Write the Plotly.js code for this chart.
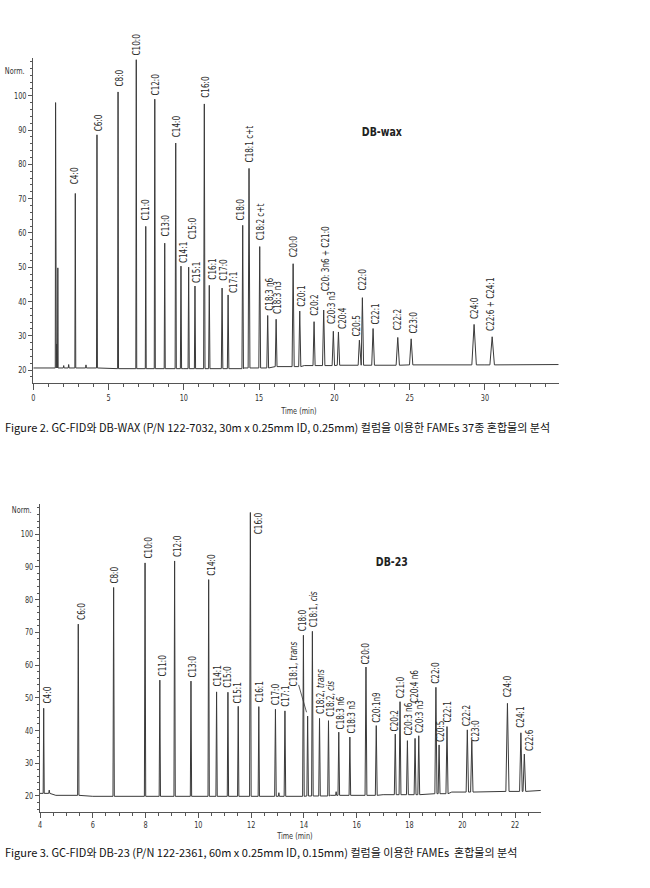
<!DOCTYPE html>
<html>
<head>
<meta charset="utf-8">
<script src="https://cdn.plot.ly/plotly-3.0.1.min.js"></script>
<style>
html,body{margin:0;padding:0;background:#ffffff;}
#chart{width:650px;height:888px;}
</style>
</head>
<body>
<div id="chart"></div>
<script>
// ---------------- Figure 2 : DB-wax ----------------
const waxPeakLabels = ["C4:0","C6:0","C8:0","C10:0","C11:0","C12:0","C13:0","C14:0","C14:1","C15:0","C15:1","C16:0","C16:1","C17:0","C17:1","C18:0","C18:1 c+t","C18:2 c+t","C18:3 n6","C18:3 n3","C20:0","C20:1","C20:2","C20: 3n6 + C21:0","C20:3 n3","C20:4","C20:5","C22:0","C22:1","C22:2","C23:0","C24:0","C22:6 + C24:1"];
const waxPeakTimes  = [2.79,4.23,5.63,6.84,7.47,8.07,8.73,9.46,9.81,10.32,10.74,11.36,11.69,12.54,12.94,13.91,14.33,15.04,15.57,16.13,17.26,17.70,18.65,19.29,19.93,20.27,21.66,21.86,22.57,24.21,25.10,29.28,30.48];
const waxPeakHeights= [71.5,88.6,101.1,110.5,61.9,99.0,57.0,86.2,50.3,50.0,44.5,97.6,44.7,43.9,41.9,62.2,78.8,56.0,35.9,34.8,51.0,37.2,34.1,37.5,31.3,31.1,28.7,41.1,32.1,29.5,29.1,33.3,29.7];
const waxPeakHalfWidths = [0.03,0.03,0.03,0.03,0.03,0.035,0.035,0.04,0.04,0.04,0.04,0.045,0.045,0.05,0.05,0.05,0.06,0.06,0.06,0.06,0.07,0.07,0.07,0.08,0.08,0.08,0.08,0.08,0.09,0.11,0.11,0.15,0.15];
// unlabelled solvent / trace peaks
const waxMinorTimes   = [1.48,1.55,1.63,2.02,2.35,3.50];
const waxMinorHeights = [98.0,27.6,49.8,21.3,21.6,21.5];
const waxMinorHalfWidths = [0.02,0.02,0.02,0.03,0.03,0.03];
// baseline samples
const waxBaseTimes  = [0,1.3,5,10,14,16,18,20,25,30,34.9];
const waxBaseLevels = [20.6,20.6,20.4,20.4,20.6,21.0,21.3,21.4,21.5,21.5,21.6];
const waxXTicks = [0,5,10,15,20,25,30];
const waxYTicks = [20,30,40,50,60,70,80,90,100];

// ---------------- Figure 3 : DB-23 ----------------
const db23PeakLabels = ["C4:0","C6:0","C8:0","C10:0","C11:0","C12:0","C13:0","C14:0","C14:1","C15:0","C15:1","C16:0","C16:1","C17:0","C17:1","C18:0","C18:1, <i>trans</i>","C18:1, <i>cis</i>","C18:2, <i>trans</i>","C18:2, <i>cis</i>","C18:3 n6","C18:3 n3","C20:0","C20:1n9","C20:2","C21:0","C20:3 n6","C20:4 n6","C20:3 n3","C22:0","C20:5","C22:1","C22:2","C23:0","C24:0","C24:1","C22:6"];
const db23PeakTimes  = [4.14,5.45,6.79,7.98,8.54,9.10,9.72,10.39,10.69,11.12,11.51,11.97,12.29,12.92,13.28,13.98,14.14,14.32,14.59,14.93,15.32,15.74,16.35,16.74,17.46,17.64,17.92,18.21,18.35,19.00,19.12,19.42,20.19,20.36,21.71,22.22,22.35];
const db23PeakHeights= [46.8,72.5,83.7,91.2,55.4,91.8,55.1,86.1,51.8,51.7,47.4,106.6,47.3,46.5,46.0,69.1,44.4,70.3,43.7,43.0,39.5,38.0,59.4,41.5,38.9,48.8,36.9,37.6,38.4,53.2,35.6,41.2,40.2,37.0,48.3,39.3,32.8];
const db23PeakHalfWidths = [0.02,0.025,0.025,0.025,0.025,0.025,0.025,0.025,0.025,0.025,0.025,0.03,0.025,0.03,0.03,0.03,0.03,0.03,0.03,0.03,0.03,0.03,0.035,0.035,0.035,0.035,0.035,0.035,0.035,0.04,0.035,0.04,0.045,0.045,0.06,0.05,0.05];
const db23MinorTimes   = [4.35,13.05,15.22];
const db23MinorHeights = [21.8,21.0,21.3];
const db23MinorHalfWidths = [0.02,0.02,0.02];
const db23BaseTimes  = [4.0,4.6,6,10,14,15,17,18.8,19.6,21,23];
const db23BaseLevels = [20.8,20.2,19.9,19.9,20.0,20.2,20.4,20.7,21.2,21.4,21.7];
const db23XTicks = [4,6,8,10,12,14,16,18,20,22];
const db23YTicks = [20,30,40,50,60,70,80,90,100];

// ---------------- captions / titles ----------------
const cap2 = "Figure 2. GC-FID와 DB-WAX (P/N 122-7032, 30m x 0.25mm ID, 0.25mm) 컬럼을 이용한 FAMEs 37종 혼합물의 분석";
const cap3 = "Figure 3. GC-FID와 DB-23 (P/N 122-2361, 60m x 0.25mm ID, 0.15mm) 컬럼을 이용한 FAMEs&nbsp; 혼합물의 분석";
const colName2 = "DB-wax";
const colName3 = "DB-23";
const yUnit = "Norm.";
const xTitle = "Time (min)";

// ---------------- font selection (narrow face to match the reference) ----------------
function measure(family, size, s){
  const sp = document.createElement('span');
  sp.style.cssText = 'position:absolute;left:0;top:0;visibility:hidden;white-space:nowrap;font-family:'+family+';font-size:'+size+'px;';
  sp.textContent = s; document.body.appendChild(sp);
  const w = sp.getBoundingClientRect().width; sp.remove(); return w;
}
function hasFont(f){
  const s = "C20: 3n6 + C21:0 mmmWWiil";
  return measure('"'+f+'", monospace',20,s) !== measure('monospace',20,s);
}
const sample = "C20: 3n6 + C21:0";
const targetW = 65; // px width of that label in the reference (10px narrow face)
let FN = '"Liberation Sans", Arial, sans-serif';
for(const c of ["Liberation Sans Narrow","DejaVu Sans Condensed"]){
  if(hasFont(c)){ FN = '"'+c+'", sans-serif'; break; }
}
// horizontal compression factor so that the chosen face matches narrow-label widths
const squeeze = Math.min(1, targetW / measure(FN,10,sample));
const CAPF = '"Noto Sans CJK KR", "Noto Sans", sans-serif';
const capSize = +(12*545/measure(CAPF,12,cap2)).toFixed(2);

// ---------------- build chromatogram line from peak table ----------------
function buildLine(pT, pH, pW, mT, mH, mW, bT, bV) {
  const peaks = [];
  pT.forEach((t,i)=>peaks.push({t:t,h:pH[i],w:pW[i]}));
  mT.forEach((t,i)=>peaks.push({t:t,h:mH[i],w:mW[i]}));
  function level(t){ let k=0; for(let i=0;i<bT.length;i++){ if(bT[i]<=t) k=i; } return bV[k]; }
  const pts = [];
  bT.forEach((t,i)=>{
    const inside = peaks.some(p=>t>=p.t-p.w && t<=p.t+p.w);
    if(!inside) pts.push([t,bV[i]]);
  });
  peaks.forEach(p=>{
    const lv = level(p.t);
    pts.push([p.t-p.w, lv]); pts.push([p.t, p.h]); pts.push([p.t+p.w, lv]);
  });
  pts.sort((a,b)=>a[0]-b[0]);
  return {x:pts.map(p=>p[0]), y:pts.map(p=>p[1])};
}

const lineCol = "#3a3a3a";
const labelCol = "#2b2b2b";

const wax = buildLine(waxPeakTimes,waxPeakHeights,waxPeakHalfWidths,waxMinorTimes,waxMinorHeights,waxMinorHalfWidths,waxBaseTimes,waxBaseLevels);
const d23 = buildLine(db23PeakTimes,db23PeakHeights,db23PeakHalfWidths,db23MinorTimes,db23MinorHeights,db23MinorHalfWidths,db23BaseTimes,db23BaseLevels);

const traces = [
  {type:'scatter',mode:'lines',x:wax.x,y:wax.y,xaxis:'x',yaxis:'y',line:{color:lineCol,width:1},hoverinfo:'skip',showlegend:false},
  {type:'scatter',mode:'lines',x:d23.x,y:d23.y,xaxis:'x2',yaxis:'y2',line:{color:lineCol,width:1},hoverinfo:'skip',showlegend:false}
];

// label placement tweaks (pixels): [xshift, gap above apex]
const waxNudge = {"C4:0":[0,8],"C6:0":[1,3],"C8:0":[1,4],"C10:0":[0,3],"C11:0":[0,5],"C12:0":[1,3],"C13:0":[1,6],"C14:0":[1,5],
 "C14:1":[2,2],"C15:0":[4,27],"C15:1":[1,2],"C16:0":[1,5],"C16:1":[3,5],"C17:0":[2,6],"C17:1":[6,1],"C18:0":[-2,4],
 "C18:1 c+t":[0,5],"C18:2 c+t":[1,5],"C18:3 n6":[1,4],"C18:3 n3":[2,4],"C20:0":[0,5],"C20:1":[1,3],"C20:2":[1,5],
 "C20: 3n6 + C21:0":[2,18],"C20:3 n3":[-2,6],"C20:4":[4,2],"C20:5":[-3,3],"C22:0":[0,6],"C22:1":[2,3],"C22:2":[0,6],"C23:0":[2,4],"C24:0":[1,4],"C22:6 + C24:1":[-1,5]};
const d23Nudge = {"C4:0":[4,4],"C6:0":[3,3],"C8:0":[1,3],"C10:0":[3,3],"C11:0":[3,3],"C12:0":[3,3],"C13:0":[2,3],"C14:0":[2,3],
 "C14:1":[1,4],"C15:0":[0,4],"C15:1":[-1,2],"C16:1":[1,3],"C17:0":[0,3],"C17:1":[1,3],"C18:0":[-1,3],"C18:1, <i>cis</i>":[1,3],
 "C18:2, <i>trans</i>":[1,3],"C18:2, <i>cis</i>":[2,3],"C18:3 n6":[2,2],"C18:3 n3":[2,3],"C20:0":[0,2],"C20:1n9":[0,2],"C20:2":[-1,2],
 "C21:0":[0,2],"C20:3 n6":[1,4],"C20:4 n6":[0,34],"C20:3 n3":[1,2],"C22:0":[0,3],"C20:5":[2,2],"C22:1":[1,3],"C22:2":[0,3],
 "C23:0":[4,-2],"C24:0":[0,5],"C24:1":[0,4],"C22:6":[5,2]};

const annotations = [];
const squeezeAnchor = []; // per annotation: 'start' | 'middle' | 'end' | null
function addLabels(labels,times,heights,nudge,xr,yr){
  labels.forEach((lab,i)=>{
    const base = {xref:xr,yref:yr,x:times[i],y:heights[i],text:lab,textangle:-90,
      font:{family:FN,size:10,color:labelCol},borderpad:0};
    if(xr==='x2' && lab==="C16:0"){
      annotations.push(Object.assign(base,{showarrow:false,xanchor:'center',yanchor:'top',xshift:8,yshift:1}));
      squeezeAnchor.push('end');
    } else if(xr==='x2' && lab==="C18:1, <i>trans</i>"){
      annotations.push(Object.assign(base,{showarrow:true,arrowhead:0,arrowwidth:0.8,arrowcolor:'#333',ax:-15,ay:-52,standoff:4}));
      squeezeAnchor.push('middle');
    } else {
      const n = nudge[lab] || [0,4];
      annotations.push(Object.assign(base,{showarrow:false,xanchor:'center',yanchor:'bottom',xshift:n[0],yshift:n[1]}));
      squeezeAnchor.push('start');
    }
  });
}
addLabels(waxPeakLabels,waxPeakTimes,waxPeakHeights,waxNudge,'x','y');
addLabels(db23PeakLabels,db23PeakTimes,db23PeakHeights,d23Nudge,'x2','y2');

function txt(s,x,y,xa,size,anch,opts){
  annotations.push(Object.assign({xref:'paper',yref:'paper',x:x,y:y,xanchor:xa,yanchor:'middle',showarrow:false,text:s,
    font:{family:FN,size:size,color:'#333'}},opts||{}));
  squeezeAnchor.push(anch);
}
txt("<b>"+colName2+"</b>",381.7/650,1-131.7/888,'center',13,'middle',{font:{family:FN,size:13,color:'#222'}});
txt("<b>"+colName3+"</b>",391.7/650,1-561/888,'center',13,'middle',{font:{family:FN,size:13,color:'#222'}});
txt(yUnit,27/650,1-70.7/888,'right',9,'end');
txt(yUnit,34/650,1-510/888,'right',9,'end');
txt(xTitle,298.3/650,1-410.7/888,'center',9,'middle');
txt(xTitle,294/650,1-835.7/888,'center',9,'middle');
txt(cap2,3/650,1-427.5/888,'left',12,null,{font:{family:CAPF,size:capSize,color:'#111'}});
txt(cap3,3/650,1-852/888,'left',12,null,{font:{family:CAPF,size:capSize,color:'#111'}});

const axCommon = {showgrid:false,zeroline:false,showline:true,linecolor:'#555',linewidth:1,ticks:'outside',tickcolor:'#555',
  tickfont:{family:FN,size:9,color:'#333'},fixedrange:true};
const layout = {
  width:650,height:888,margin:{l:0,r:0,t:0,b:0},paper_bgcolor:'#fff',plot_bgcolor:'#fff',showlegend:false,
  xaxis:Object.assign({},axCommon,{domain:[33.3/650,558.7/650],range:[0,34.9],anchor:'y',tickmode:'array',tickvals:waxXTicks,ticktext:waxXTicks.map(String),ticklen:6,
    minor:{dtick:1,tick0:0,ticklen:3,ticks:'outside',tickcolor:'#555'}}),
  yaxis:Object.assign({},axCommon,{domain:[1-383.3/888,1-58/888],range:[16.13,111.0],anchor:'x',tickmode:'array',tickvals:waxYTicks,ticktext:waxYTicks.map(String),ticklen:4,
    minor:{dtick:2,tick0:0,ticklen:2,ticks:'outside',tickcolor:'#555'}}),
  xaxis2:Object.assign({},axCommon,{domain:[40/650,540.7/650],range:[4,22.97],anchor:'y2',tickmode:'array',tickvals:db23XTicks,ticktext:db23XTicks.map(String),ticklen:5,
    minor:{dtick:0.5,tick0:0,ticklen:3,ticks:'outside',tickcolor:'#555'}}),
  yaxis2:Object.assign({},axCommon,{domain:[1-811.7/888,1-504/888],range:[15.2,109.2],anchor:'x2',tickmode:'array',tickvals:db23YTicks,ticktext:db23YTicks.map(String),ticklen:4,
    minor:{dtick:2,tick0:0,ticklen:2,ticks:'outside',tickcolor:'#555'}}),
  annotations:annotations
};

// condense a text element horizontally (in its own reading direction) about an anchor point
function condense(el, anchor){
  if(!el || squeeze>=0.999) return;
  let bb; try{ bb = el.getBBox(); }catch(e){ return; }
  if(!bb || !bb.width) return;
  const ax = anchor==='start' ? bb.x : anchor==='end' ? bb.x+bb.width : bb.x+bb.width/2;
  const prev = el.getAttribute('transform') || '';
  el.setAttribute('transform', prev+' translate('+ax+',0) scale('+squeeze.toFixed(4)+',1) translate('+(-ax)+',0)');
}

Plotly.newPlot('chart',traces,layout,{displayModeBar:false,staticPlot:true}).then(gd=>{
  gd.querySelectorAll('g.annotation').forEach(g=>{
    const idx = +g.getAttribute('data-index');
    const a = squeezeAnchor[idx];
    if(a) condense(g.querySelector('text.annotation-text'), a);
  });
  gd.querySelectorAll('g.xtick text, g.x2tick text').forEach(t=>condense(t,'middle'));
  gd.querySelectorAll('g.ytick text, g.y2tick text').forEach(t=>condense(t,'end'));
});
</script>
</body>
</html>
